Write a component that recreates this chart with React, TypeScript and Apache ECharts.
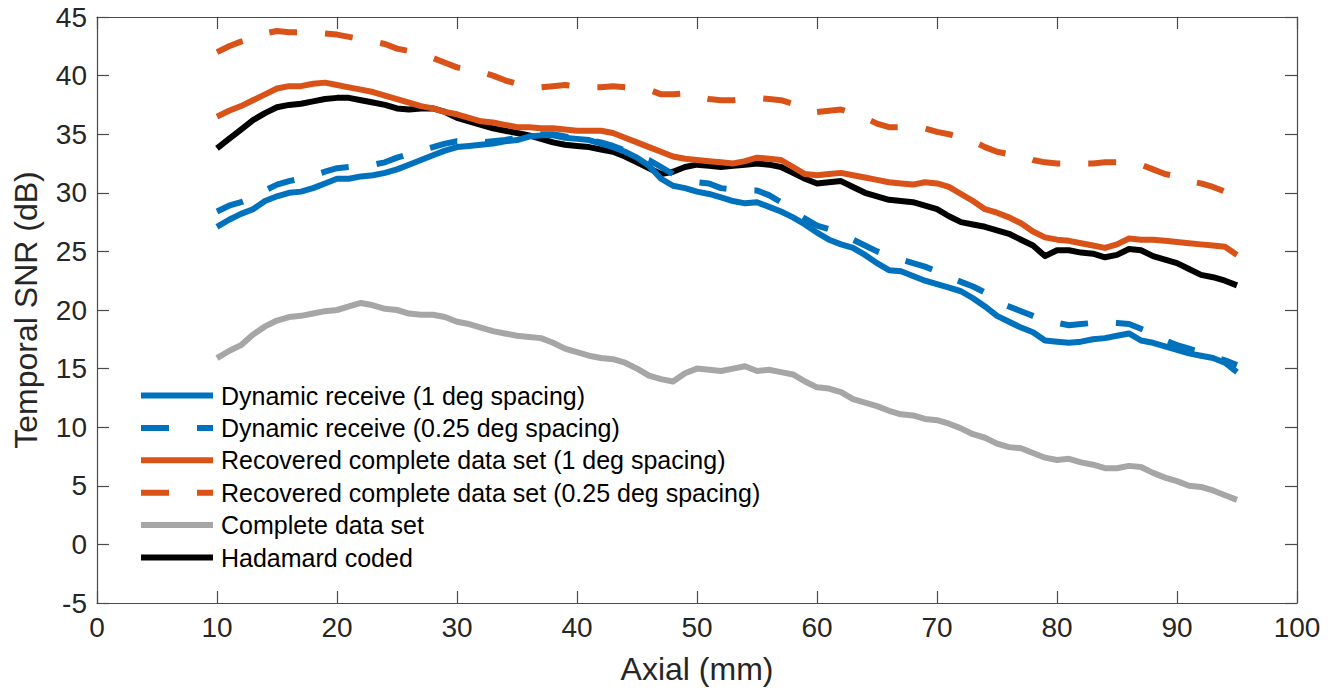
import React, { useEffect, useRef } from "react";
import * as echarts from "echarts";

const axial = [
  10, 11, 12, 13, 14, 15, 16, 17, 18, 19, 20, 21, 22, 23, 24, 25, 26, 27, 28, 29,
  30, 31, 32, 33, 34, 35, 36, 37, 38, 39, 40, 41, 42, 43, 44, 45, 46, 47, 48, 49,
  50, 51, 52, 53, 54, 55, 56, 57, 58, 59, 60, 61, 62, 63, 64, 65, 66, 67, 68, 69,
  70, 71, 72, 73, 74, 75, 76, 77, 78, 79, 80, 81, 82, 83, 84, 85, 86, 87, 88, 89,
  90, 91, 92, 93, 94, 95,
];

const dynamic1 = [
  27.1, 27.7, 28.2, 28.6, 29.3, 29.7, 30.0, 30.1, 30.4, 30.8, 31.2, 31.2, 31.4, 31.5, 31.7, 32.0, 32.4, 32.8, 33.2, 33.6,
  33.9, 34.0, 34.1, 34.2, 34.4, 34.5, 34.8, 34.9, 34.9, 34.7, 34.6, 34.5, 34.2, 33.9, 33.5, 33.0, 32.3, 31.2, 30.6, 30.4,
  30.1, 29.9, 29.6, 29.3, 29.1, 29.2, 28.8, 28.4, 27.9, 27.3, 26.6, 26.0, 25.6, 25.3, 24.7, 24.0, 23.4, 23.3, 22.9, 22.5,
  22.2, 21.9, 21.6, 21.0, 20.3, 19.5, 19.0, 18.5, 18.1, 17.4, 17.3, 17.2, 17.3, 17.5, 17.6, 17.8, 18.0, 17.4, 17.2, 16.9,
  16.6, 16.3, 16.1, 15.9, 15.5, 14.7,
];

const dynamic025 = [
  28.4, 28.9, 29.2, 29.6, 30.2, 30.7, 31.0, 31.2, 31.5, 31.8, 32.1, 32.2, 32.3, 32.4, 32.6, 33.0, 33.3, 33.6, 33.9, 34.2,
  34.4, 34.3, 34.3, 34.4, 34.5, 34.7, 34.9, 35.0, 35.0, 34.8, 34.7, 34.5, 34.3, 34.0, 33.6, 33.2, 32.8, 32.2, 31.6, 31.2,
  30.9, 30.8, 30.4, 30.3, 30.2, 30.2, 29.8, 29.2, 28.4, 27.8, 27.2, 26.9, 26.4, 26.0, 25.5, 25.0, 24.6, 24.3, 24.0, 23.7,
  23.3, 22.8, 22.4, 22.0, 21.5, 20.7, 20.3, 19.9, 19.5, 19.1, 18.9, 18.7, 18.8, 18.9, 19.0, 18.9, 18.8, 18.4, 18.0, 17.4,
  17.0, 16.7, 16.4, 16.0, 15.7, 15.3,
];

const recovered1 = [
  36.5, 37.0, 37.4, 37.9, 38.4, 38.9, 39.1, 39.1, 39.3, 39.4, 39.2, 39.0, 38.8, 38.6, 38.3, 38.0, 37.7, 37.4, 37.2, 36.9,
  36.7, 36.4, 36.1, 36.0, 35.8, 35.6, 35.6, 35.5, 35.5, 35.4, 35.3, 35.3, 35.3, 35.1, 34.7, 34.3, 33.9, 33.5, 33.1, 32.9,
  32.8, 32.7, 32.6, 32.5, 32.7, 33.0, 32.9, 32.8, 32.2, 31.6, 31.5, 31.6, 31.7, 31.5, 31.3, 31.1, 30.9, 30.8, 30.7, 30.9,
  30.8, 30.5, 29.9, 29.3, 28.6, 28.3, 27.9, 27.4, 26.7, 26.2, 26.0, 25.9, 25.7, 25.5, 25.3, 25.6, 26.1, 26.0, 26.0, 25.9,
  25.8, 25.7, 25.6, 25.5, 25.4, 24.7,
];

const recovered025 = [
  42.0, 42.5, 42.9, 43.2, 43.6, 43.8, 43.7, 43.7, 43.6, 43.6, 43.5, 43.3, 43.1, 42.9, 42.7, 42.3, 42.1, 41.8, 41.5, 41.1,
  40.7, 40.5, 40.3, 40.0, 39.6, 39.3, 39.1, 39.0, 39.1, 39.2, 39.1, 39.0, 39.0, 39.1, 39.0, 38.9, 38.8, 38.4, 38.4, 38.5,
  38.2, 38.0, 37.9, 37.9, 38.0, 38.1, 38.0, 37.9, 37.6, 37.1, 36.9, 37.0, 37.1, 36.8, 36.4, 35.9, 35.6, 35.6, 35.6, 35.5,
  35.2, 35.0, 34.7, 34.4, 33.9, 33.5, 33.3, 33.2, 32.8, 32.6, 32.5, 32.5, 32.5, 32.5, 32.6, 32.6, 32.6, 32.4, 32.0, 31.6,
  31.4, 31.0, 30.8, 30.5, 30.1, 29.2,
];

const complete = [
  15.9, 16.5, 17.0, 17.9, 18.6, 19.1, 19.4, 19.5, 19.7, 19.9, 20.0, 20.3, 20.6, 20.4, 20.1, 20.0, 19.7, 19.6, 19.6, 19.4,
  19.0, 18.8, 18.5, 18.2, 18.0, 17.8, 17.7, 17.6, 17.2, 16.7, 16.4, 16.1, 15.9, 15.8, 15.5, 15.0, 14.4, 14.1, 13.9, 14.6,
  15.0, 14.9, 14.8, 15.0, 15.2, 14.8, 14.9, 14.7, 14.5, 13.9, 13.4, 13.3, 13.0, 12.4, 12.1, 11.8, 11.4, 11.1, 11.0, 10.7,
  10.6, 10.3, 9.9, 9.4, 9.1, 8.6, 8.3, 8.2, 7.8, 7.4, 7.2, 7.3, 7.0, 6.8, 6.5, 6.5, 6.7, 6.6, 6.1, 5.7,
  5.4, 5.0, 4.9, 4.6, 4.2, 3.8,
];

const hadamard = [
  33.8, 34.6, 35.4, 36.2, 36.8, 37.3, 37.5, 37.6, 37.8, 38.0, 38.1, 38.1, 37.9, 37.7, 37.5, 37.2, 37.1, 37.2, 37.2, 36.9,
  36.4, 36.1, 35.8, 35.5, 35.3, 35.1, 34.9, 34.6, 34.3, 34.1, 34.0, 33.9, 33.7, 33.5, 33.1, 32.6, 32.1, 31.6, 31.8, 32.2,
  32.4, 32.3, 32.2, 32.3, 32.4, 32.5, 32.4, 32.2, 31.7, 31.2, 30.8, 30.9, 31.0, 30.5, 30.0, 29.7, 29.4, 29.3, 29.2, 28.9,
  28.6, 28.0, 27.5, 27.3, 27.1, 26.8, 26.5, 26.0, 25.5, 24.6, 25.1, 25.1, 24.9, 24.8, 24.5, 24.7, 25.2, 25.1, 24.6, 24.3,
  24.0, 23.5, 23.0, 22.8, 22.5, 22.1,
];

const seriesNames = [
  "Dynamic receive (1 deg spacing)",
  "Dynamic receive (0.25 deg spacing)",
  "Recovered complete data set (1 deg spacing)",
  "Recovered complete data set (0.25 deg spacing)",
  "Complete data set",
  "Hadamard coded",
];

const seriesValues = [dynamic1, dynamic025, recovered1, recovered025, complete, hadamard];
const seriesColors = ["#0072BD", "#0072BD", "#D95319", "#D95319", "#A6A6A6", "#000000"];
const seriesDashed = [false, true, false, true, false, false];
const seriesZ = [3, 3, 4, 4, 2, 1];

const FONT = "'Liberation Sans', Arial, Helvetica, sans-serif";
const TEXT = "#262626";
const AXIS = "#4a4a4a";
const LINE_W = 6;
const DASH = [28, 28];

export default function App() {
  const ref = useRef<HTMLDivElement>(null);

  useEffect(() => {
    if (!ref.current) return;
    const chart = echarts.init(ref.current, undefined, { renderer: "svg" });

    const xBase = {
      type: "value" as const,
      min: 0,
      max: 100,
      interval: 10,
      splitLine: { show: false },
      axisLine: { show: true, onZero: false, lineStyle: { color: AXIS, width: 1.2 } },
      axisTick: { show: true, inside: true, length: 12, lineStyle: { color: AXIS, width: 1.2 } },
    };
    const yBase = {
      type: "value" as const,
      min: -5,
      max: 45,
      interval: 5,
      splitLine: { show: false },
      axisLine: { show: true, onZero: false, lineStyle: { color: AXIS, width: 1.2 } },
      axisTick: { show: true, inside: true, length: 12, lineStyle: { color: AXIS, width: 1.2 } },
    };

    chart.setOption({
      animation: false,
      backgroundColor: "#ffffff",
      grid: { left: 97, right: 40, top: 17, bottom: 89, containLabel: false },
      xAxis: [
        {
          ...xBase,
          position: "bottom",
          name: "Axial (mm)",
          nameLocation: "middle",
          nameGap: 50,
          nameTextStyle: { color: TEXT, fontSize: 32, fontFamily: FONT },
          axisLabel: { color: TEXT, fontSize: 28, fontFamily: FONT, margin: 10 },
        },
        { ...xBase, position: "top", axisLabel: { show: false } },
      ],
      yAxis: [
        {
          ...yBase,
          position: "left",
          name: "Temporal SNR (dB)",
          nameLocation: "middle",
          nameGap: 55,
          nameTextStyle: { color: TEXT, fontSize: 32, fontFamily: FONT },
          axisLabel: { color: TEXT, fontSize: 28, fontFamily: FONT, margin: 10 },
        },
        { ...yBase, position: "right", axisLabel: { show: false } },
      ],
      legend: {
        show: true,
        orient: "vertical",
        left: 133,
        top: 378,
        itemWidth: 72,
        itemHeight: 14,
        itemGap: 7.4,
        data: seriesNames.map((name, i) => ({
          name,
          lineStyle: {
            width: LINE_W,
            color: seriesColors[i],
            type: seriesDashed[i] ? DASH : "solid",
            cap: "butt",
          },
        })),
        itemStyle: { opacity: 0 },
        lineStyle: { width: LINE_W },
        textStyle: { color: "#000000", fontSize: 25, fontFamily: FONT, padding: [0, 0, 0, 3] },
      },
      series: seriesNames.map((name, i) => ({
        name,
        type: "line",
        xAxisIndex: 0,
        yAxisIndex: 0,
        z: seriesZ[i],
        data: axial.map((x, k) => [x, seriesValues[i][k]]),
        showSymbol: false,
        symbol: "none",
        lineStyle: {
          color: seriesColors[i],
          width: LINE_W,
          type: seriesDashed[i] ? DASH : "solid",
          cap: "butt",
          join: "round",
        },
        itemStyle: { color: seriesColors[i] },
      })),
    });

    return () => chart.dispose();
  }, []);

  return (
    <div
      ref={ref}
      style={{ position: "fixed", left: 0, top: 0, width: 1337, height: 692, background: "#fff" }}
    />
  );
}
